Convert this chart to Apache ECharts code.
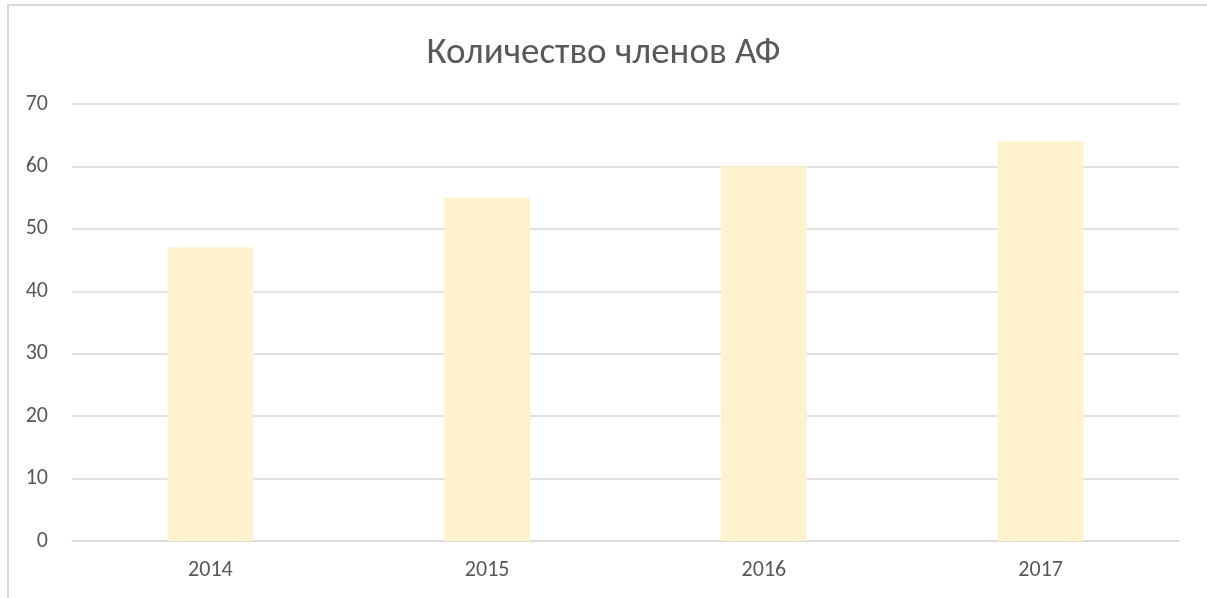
<!DOCTYPE html>
<html>
<head>
    <meta charset="utf-8" />
    <script src="https://cdn.jsdelivr.net/npm/echarts@6/dist/echarts.min.js"></script>
    <style>
        html, body { margin: 0; background: #fff; overflow: hidden; }
        #frame { position: absolute; left: 7px; top: 4px; width: 1300px; height: 700px; border: 2px solid #d9d9d9; pointer-events: none; }
        #chart { position: absolute; left: 0; top: 0; width: 1207px; height: 598px; }
    </style>
</head>
<body>
    <div id="chart"></div>
    <div id="frame"></div>
<script type="text/javascript">
    var years = ['2014', '2015', '2016', '2017'];
    var members = [47, 55, 60, 64];
    var yTicks = [0, 10, 20, 30, 40, 50, 60, 70];

    var font = 'Carlito, Lato, sans-serif';
    var chart = echarts.init(document.getElementById('chart'));
    var option = {
        animation: false,
        title: {
            text: 'Количество членов АФ',
            left: 'center',
            top: 30,
            textStyle: { fontFamily: font, fontSize: 37, fontWeight: 'normal', color: '#595959' }
        },
        grid: { left: 72, right: 28, top: 104, bottom: 57 },
        xAxis: {
            type: 'category',
            data: years,
            axisLine: { lineStyle: { color: '#d9d9d9', width: 1.5 } },
            axisTick: { show: false },
            axisLabel: { color: '#595959', fontFamily: font, fontSize: 22, margin: 18 }
        },
        yAxis: {
            type: 'value',
            min: yTicks[0],
            max: yTicks[yTicks.length - 1],
            interval: 10,
            axisLine: { show: false },
            axisTick: { show: false },
            splitLine: { lineStyle: { color: '#d9d9d9', width: 1.5 } },
            axisLabel: { color: '#595959', fontFamily: font, fontSize: 22, margin: 24 }
        },
        series: [{
            type: 'bar',
            data: members,
            barWidth: '31%',
            itemStyle: { color: '#fff2cc' }
        }]
    };
    chart.setOption(option);
</script>
</body>
</html>
